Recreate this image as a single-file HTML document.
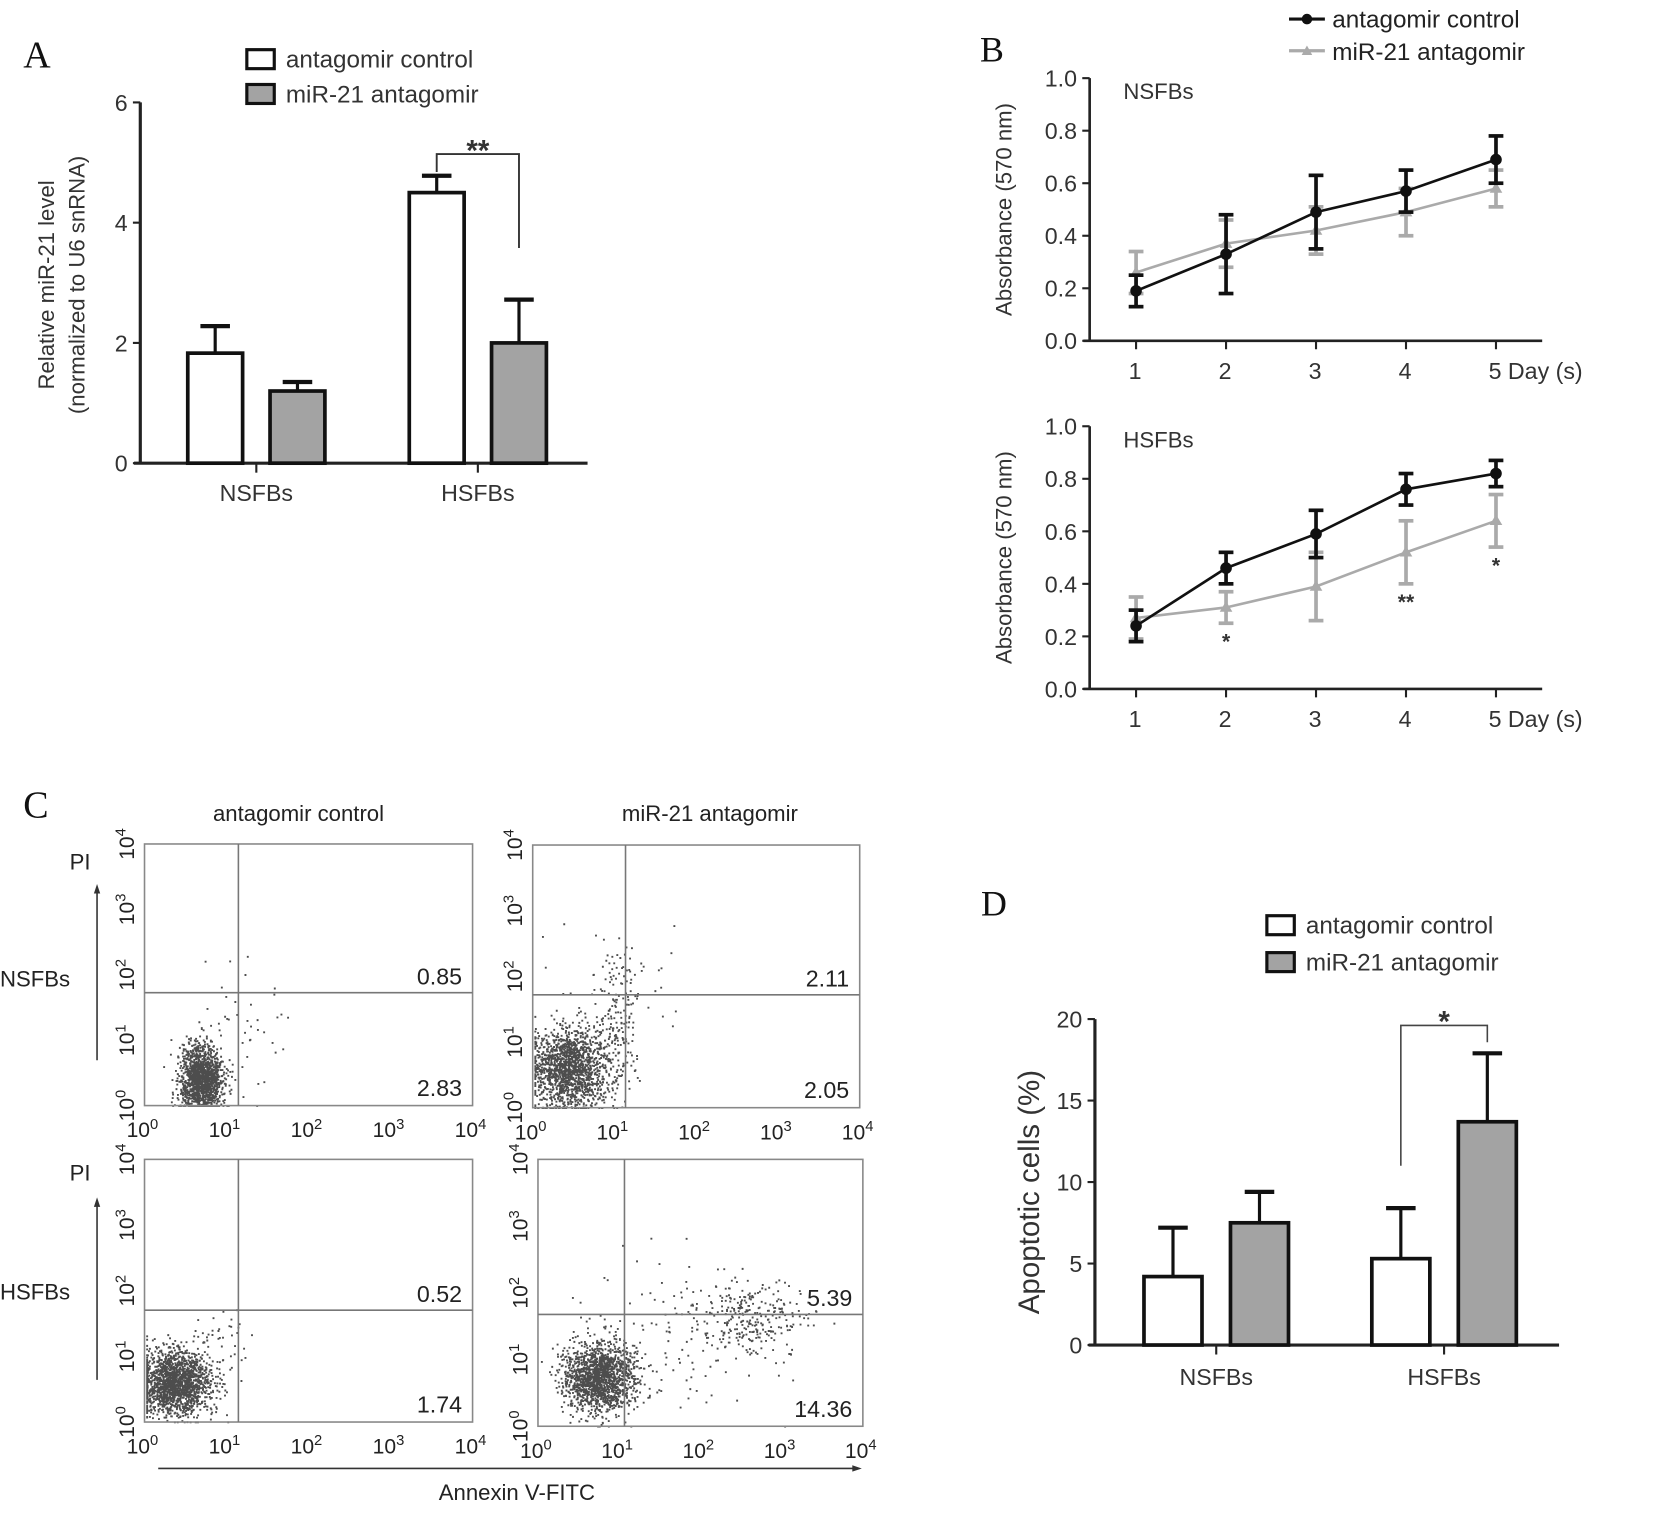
<!DOCTYPE html>
<html><head><meta charset="utf-8"><style>
html,body{margin:0;padding:0;background:#fff;}
svg{display:block;font-family:"Liberation Sans",Arial,sans-serif;}
</style></head><body>
<svg id="fig" width="1654" height="1535" viewBox="0 0 1568 1455" xmlns="http://www.w3.org/2000/svg">
<rect width="1568" height="1455" fill="#fff"/>
<g id="A"></g>
<g id="B"></g>
<g id="C"></g>
<g id="D"></g>
</svg>
<script>
// ---------- Data ----------
const barCategories = ["NSFBs","HSFBs"];
const aControl = [1.83, 4.5];
const aControlErr = [0.45, 0.28];
const aAntag = [1.2, 2.0];
const aAntagErr = [0.15, 0.72];
const aTicks = [0,2,4,6];

const days = [1,2,3,4,5];
const bTicks = [0,0.2,0.4,0.6,0.8,1.0];
const nsControl = [0.19,0.33,0.49,0.57,0.69];
const nsControlErr = [0.06,0.15,0.14,0.08,0.09];
const nsAntag = [0.26,0.37,0.42,0.49,0.58];
const nsAntagErr = [0.08,0.09,0.09,0.09,0.07];
const hsControl = [0.24,0.46,0.59,0.76,0.82];
const hsControlErr = [0.06,0.06,0.09,0.06,0.05];
const hsAntag = [0.27,0.31,0.39,0.52,0.64];
const hsAntagErr = [0.08,0.06,0.13,0.12,0.10];

const dControl = [4.2, 5.3];
const dControlErr = [3.0, 3.1];
const dAntag = [7.5, 13.7];
const dAntagErr = [1.9, 4.2];
const dTicks = [0,5,10,15,20];

// flow: quadrant percentages [upper-right, lower-right]
const flowUR = ["0.85","2.11","0.52","5.39"];
const flowLR = ["2.83","2.05","1.74","14.36"];
// clusters per plot: [logX, logY, sdX, sdY, count]
const flowClusters = [
  [[0.68,0.42,0.13,0.26,1500],[1.2,1.2,0.25,0.45,40]],
  [[0.45,0.6,0.24,0.3,1600],[1.05,1.4,0.12,0.55,150],[0.9,1.8,0.5,0.5,40]],
  [[0.35,0.6,0.22,0.25,1700],[0.9,1.1,0.25,0.35,60]],
  [[0.75,0.75,0.22,0.25,1600],[2.65,1.65,0.3,0.28,260],[1.8,1.4,0.6,0.6,140]]
];

const NS="http://www.w3.org/2000/svg";
function el(parent,tag,attrs,text){const e=document.createElementNS(NS,tag);for(const k in attrs)e.setAttribute(k,attrs[k]);if(text!==undefined)e.textContent=text;parent.appendChild(e);return e;}

// ---------- Bar chart helper ----------
function barChart(g,o){
  const y=v=>o.y0-(v/o.vmax)*(o.y0-o.y1);
  const ax=el(g,'line',{x1:o.x0,y1:o.y1,x2:o.x0,y2:o.y0,stroke:'#222','stroke-width':3});
  
  const xx=el(g,'line',{x1:o.x0-6,y1:o.y0,x2:o.xEnd,y2:o.y0,stroke:'#222','stroke-width':3});
  
  o.ticks.forEach(t=>{
    el(g,'line',{x1:o.x0-7,y1:y(t),x2:o.x0,y2:y(t),stroke:'#222','stroke-width':2});
    const tl=el(g,'text',{x:o.x0-12,y:y(t)+8,'text-anchor':'end','font-size':o.fs,fill:'#333'},t);
    
  });
  barCategories.forEach((c,i)=>{
    const cx=o.catX[i];
    el(g,'line',{x1:cx,y1:o.y0,x2:cx,y2:o.y0+9,stroke:'#222','stroke-width':2});
    const cl=el(g,'text',{x:cx,y:o.y0+o.labDy,'text-anchor':'middle','font-size':o.fs,fill:'#333'},c);
    
    [[o.ctrl,o.ctrlErr,'#fff',-1],[o.ant,o.antErr,'#a3a3a3',1]].forEach(([vals,errs,fill,side])=>{
      const bx = side<0 ? cx-o.gap/2-o.bw : cx+o.gap/2;
      const mid=bx+o.bw/2;
      el(g,'line',{x1:mid,y1:y(vals[i]),x2:mid,y2:y(vals[i]+errs[i]),stroke:'#111','stroke-width':3});
      el(g,'line',{x1:mid-14,y1:y(vals[i]+errs[i]),x2:mid+14,y2:y(vals[i]+errs[i]),stroke:'#111','stroke-width':4});
      const r=el(g,'rect',{x:bx,y:y(vals[i]),width:o.bw,height:o.y0-y(vals[i]),fill:fill,stroke:'#111','stroke-width':3.5});
      
      
    });
  });
  return y;
}
function legendBoxes(g,x,y,dy,fs){
  [['antagomir control','#fff'],['miR-21 antagomir','#a3a3a3']].forEach(([t,f],i)=>{
    const r=el(g,'rect',{x:x,y:y+i*dy,width:26,height:18,fill:f,stroke:'#111','stroke-width':3});
    
    const tx=el(g,'text',{x:x+37,y:y+i*dy+17,'font-size':fs,fill:'#333'},t);
    
  });
}

// ---------- Panel A ----------
(function(){
  const g=document.getElementById('A');
  const L=el(g,'text',{x:22,y:64,'font-size':36,'font-family':'Liberation Serif,serif',fill:'#111'},'A');
  
  legendBoxes(g,234,47,33,23);
  const y=barChart(g,{x0:133,y0:439,y1:97,xEnd:557,vmax:6,ticks:aTicks,catX:[243,453],bw:52,gap:26,
    ctrl:aControl,ctrlErr:aControlErr,ant:aAntag,antErr:aAntagErr,fs:22,labDy:36});
  el(g,'path',{d:`M414 163 V146 H492 V235`,fill:'none',stroke:'#333','stroke-width':1.8});
  el(g,'text',{x:453,y:152,'text-anchor':'middle','font-size':28,'font-weight':'bold',fill:'#333'},'**');
  const t=el(g,'text',{transform:'translate(51,270) rotate(-90)','text-anchor':'middle','font-size':21,fill:'#333'},'Relative miR-21 level');
  
  el(g,'text',{transform:'translate(80,270) rotate(-90)','text-anchor':'middle','font-size':21,fill:'#333'},'(normalized to U6 snRNA)');
})();

// ---------- Panel B ----------
(function(){
  const g=document.getElementById('B');
  const L=el(g,'text',{x:929,y:58,'font-size':34,'font-family':'Liberation Serif,serif',fill:'#111'},'B');
  
  el(g,'line',{x1:1222,y1:18,x2:1256,y2:18,stroke:'#111','stroke-width':3});
  el(g,'circle',{cx:1239,cy:18,r:5,fill:'#111'});
  const l1=el(g,'text',{x:1263,y:26,'font-size':23,fill:'#222'},'antagomir control');
  
  el(g,'line',{x1:1222,y1:48,x2:1256,y2:48,stroke:'#aaa','stroke-width':3});
  el(g,'path',{d:'M1239 43 L1244 52 L1234 52 Z',fill:'#aaa'});
  const l2=el(g,'text',{x:1263,y:57,'font-size':23,fill:'#222'},'miR-21 antagomir');
  

  function lineChart(top,bot,title,ctrl,ctrlE,ant,antE,stars){
    const x0=1033,xEnd=1462;
    const xs=d=>1077+(d-1)*85.3;
    const y=v=>bot-v*(bot-top);
    el(g,'line',{x1:x0,y1:top,x2:x0,y2:bot,stroke:'#222','stroke-width':2.5});
    el(g,'line',{x1:x0-6,y1:bot,x2:xEnd,y2:bot,stroke:'#222','stroke-width':2.5});
    bTicks.forEach(t=>{
      el(g,'line',{x1:x0-7,y1:y(t),x2:x0,y2:y(t),stroke:'#222','stroke-width':2});
      const tl=el(g,'text',{x:x0-12,y:y(t)+8,'text-anchor':'end','font-size':22,fill:'#333'},t.toFixed(1));
      
    });
    days.forEach((d,i)=>{
      el(g,'line',{x1:xs(d),y1:bot,x2:xs(d),y2:bot+8,stroke:'#222','stroke-width':2});
      const lab = i===days.length-1 ? d+' Day (s)' : String(d);
      const tl=el(g,'text',{x:xs(d)-7,y:bot+36,'font-size':22,fill:'#333'},lab);
      
    });
    el(g,'text',{x:1065,y:top+20,'font-size':21,fill:'#333'},title);
    const yt=el(g,'text',{transform:`translate(959,${(top+bot)/2}) rotate(-90)`,'text-anchor':'middle','font-size':21,fill:'#333'},'Absorbance (570 nm)');
    
    [[ant,antE,'#aaa','antagomir'],[ctrl,ctrlE,'#111','control']].forEach(([v,e,c,n])=>{
      const pl=el(g,'polyline',{points:days.map((d,i)=>xs(d)+','+y(v[i])).join(' '),fill:'none',stroke:c,'stroke-width':2.5});
      
      days.forEach((d,i)=>{
        const x=xs(d);
        el(g,'line',{x1:x,y1:y(v[i]-e[i]),x2:x,y2:y(v[i]+e[i]),stroke:c,'stroke-width':3.5});
        el(g,'line',{x1:x-7,y1:y(v[i]-e[i]),x2:x+7,y2:y(v[i]-e[i]),stroke:c,'stroke-width':3.5});
        el(g,'line',{x1:x-7,y1:y(v[i]+e[i]),x2:x+7,y2:y(v[i]+e[i]),stroke:c,'stroke-width':3.5});
        if(n==='control'){const p=el(g,'circle',{cx:x,cy:y(v[i]),r:5.5,fill:c});}
        else{const p=el(g,'path',{d:`M${x} ${y(v[i])-6} L${x+6} ${y(v[i])+4} L${x-6} ${y(v[i])+4} Z`,fill:c});}
      });
    });
    stars.forEach(([d,s])=>{
      const i=d-1; const yy=y(ant[i]-antE[i])+24;
      el(g,'text',{x:xs(d),y:yy,'text-anchor':'middle','font-size':20,'font-weight':'bold',fill:'#333'},s);
    });
  }
  lineChart(74,323,'NSFBs',nsControl,nsControlErr,nsAntag,nsAntagErr,[]);
  lineChart(404,653,'HSFBs',hsControl,hsControlErr,hsAntag,hsAntagErr,[[2,'*'],[4,'**'],[5,'*']]);
})();

// ---------- Panel C ----------
(function(){
  const g=document.getElementById('C');
  const L=el(g,'text',{x:22,y:775,'font-size':36,'font-family':'Liberation Serif,serif',fill:'#111'},'C');
  
  el(g,'text',{x:283,y:778,'text-anchor':'middle','font-size':21,fill:'#222'},'antagomir control');
  el(g,'text',{x:673,y:778,'text-anchor':'middle','font-size':21,fill:'#222'},'miR-21 antagomir');
  const boxes=[[137,800,448,1048,226,941],[505,801,815,1050,593,943],[137,1099,448,1348,226,1242],[510,1099,818,1352,592,1246]];
  let seed=12345;
  function rnd(){seed=(seed*16807)%2147483647;return seed/2147483647;}
  function gauss(){let u=rnd()||1e-9,v=rnd();return Math.sqrt(-2*Math.log(u))*Math.cos(2*Math.PI*v);}
  boxes.forEach((b,k)=>{
    const [x0,y0,x1,y1,qx,qy]=b;
    const sx=l=>x0+l/4*(x1-x0), sy=l=>y1-l/4*(y1-y0);
    const pg=el(g,'g',{});
    
    let d='';
    flowClusters[k].forEach(([cx,cy,sdx,sdy,n])=>{
      for(let i=0;i<n;i++){
        let lx=cx+gauss()*sdx, ly=cy+gauss()*sdy;
        lx=Math.max(0.02,Math.min(3.98,lx)); ly=Math.max(0.01,Math.min(3.98,ly));
        d+=`M${sx(lx).toFixed(1)} ${sy(ly).toFixed(1)}h1.8v1.8h-1.8z`;
      }
    });
    el(pg,'path',{d:d,fill:'#111','fill-opacity':0.75});
    el(pg,'rect',{x:x0,y:y0,width:x1-x0,height:y1-y0,fill:'none',stroke:'#888','stroke-width':1.5});
    el(pg,'line',{x1:qx,y1:y0,x2:qx,y2:y1,stroke:'#777','stroke-width':1.5});
    el(pg,'line',{x1:x0,y1:qy,x2:x1,y2:qy,stroke:'#777','stroke-width':1.5});
    const u=el(pg,'text',{x:x1-10,y:qy-8,'text-anchor':'end','font-size':22,fill:'#222'},flowUR[k]);
    
    const lr=el(pg,'text',{x:x1-10,y:y1-9,'text-anchor':'end','font-size':22,fill:'#222'},flowLR[k]);
    
    for(let p=0;p<=4;p++){
      const tx=el(pg,'text',{x:sx(p)-2,y:y1+30,'text-anchor':'middle','font-size':20,fill:'#222'});
      tx.textContent='10';el(tx,'tspan',{dy:-8,'font-size':14},String(p));
      const ty=el(pg,'text',{transform:`translate(${x0-10},${sy(p)}) rotate(-90)`,'text-anchor':'middle','font-size':20,fill:'#222'});
      ty.textContent='10';el(ty,'tspan',{dy:-8,'font-size':14},String(p));
    }
  });
  [[928,'NSFBs',817],[1225,'HSFBs',1112]].forEach(([yy,t,py])=>{
    el(g,'text',{x:0,y:yy+7,'font-size':21,fill:'#222'},t);
    el(g,'text',{x:66,y:py+7,'font-size':21,fill:'#222'},'PI');
  });
  el(g,'line',{x1:92,y1:1005,x2:92,y2:845,stroke:'#333','stroke-width':1.5});
  el(g,'path',{d:'M92 838 L89 847 L95 847 Z',fill:'#333'});
  el(g,'line',{x1:92,y1:1308,x2:92,y2:1142,stroke:'#333','stroke-width':1.5});
  el(g,'path',{d:'M92 1135 L89 1144 L95 1144 Z',fill:'#333'});
  el(g,'line',{x1:150,y1:1392,x2:810,y2:1392,stroke:'#333','stroke-width':1.5});
  el(g,'path',{d:'M817 1392 L808 1389 L808 1395 Z',fill:'#333'});
  const xt=el(g,'text',{x:490,y:1422,'text-anchor':'middle','font-size':21,fill:'#222'},'Annexin V-FITC');
  
})();

// ---------- Panel D ----------
(function(){
  const g=document.getElementById('D');
  const L=el(g,'text',{x:930,y:868,'font-size':34,'font-family':'Liberation Serif,serif',fill:'#111'},'D');
  
  legendBoxes(g,1201,868,35,23);
  barChart(g,{x0:1038,y0:1275,y1:966,xEnd:1478,vmax:20,ticks:dTicks,catX:[1153,1369],bw:55,gap:27,
    ctrl:dControl,ctrlErr:dControlErr,ant:dAntag,antErr:dAntagErr,fs:22,labDy:38});
  el(g,'path',{d:'M1328 1105 V972 H1410 V988',fill:'none',stroke:'#444','stroke-width':1.5});
  el(g,'text',{x:1369,y:978,'text-anchor':'middle','font-size':28,'font-weight':'bold',fill:'#333'},'*');
  const t=el(g,'text',{transform:'translate(985,1130) rotate(-90)','text-anchor':'middle','font-size':28,fill:'#333'},'Apoptotic cells (%)');
  
})();
</script>
</body></html>
